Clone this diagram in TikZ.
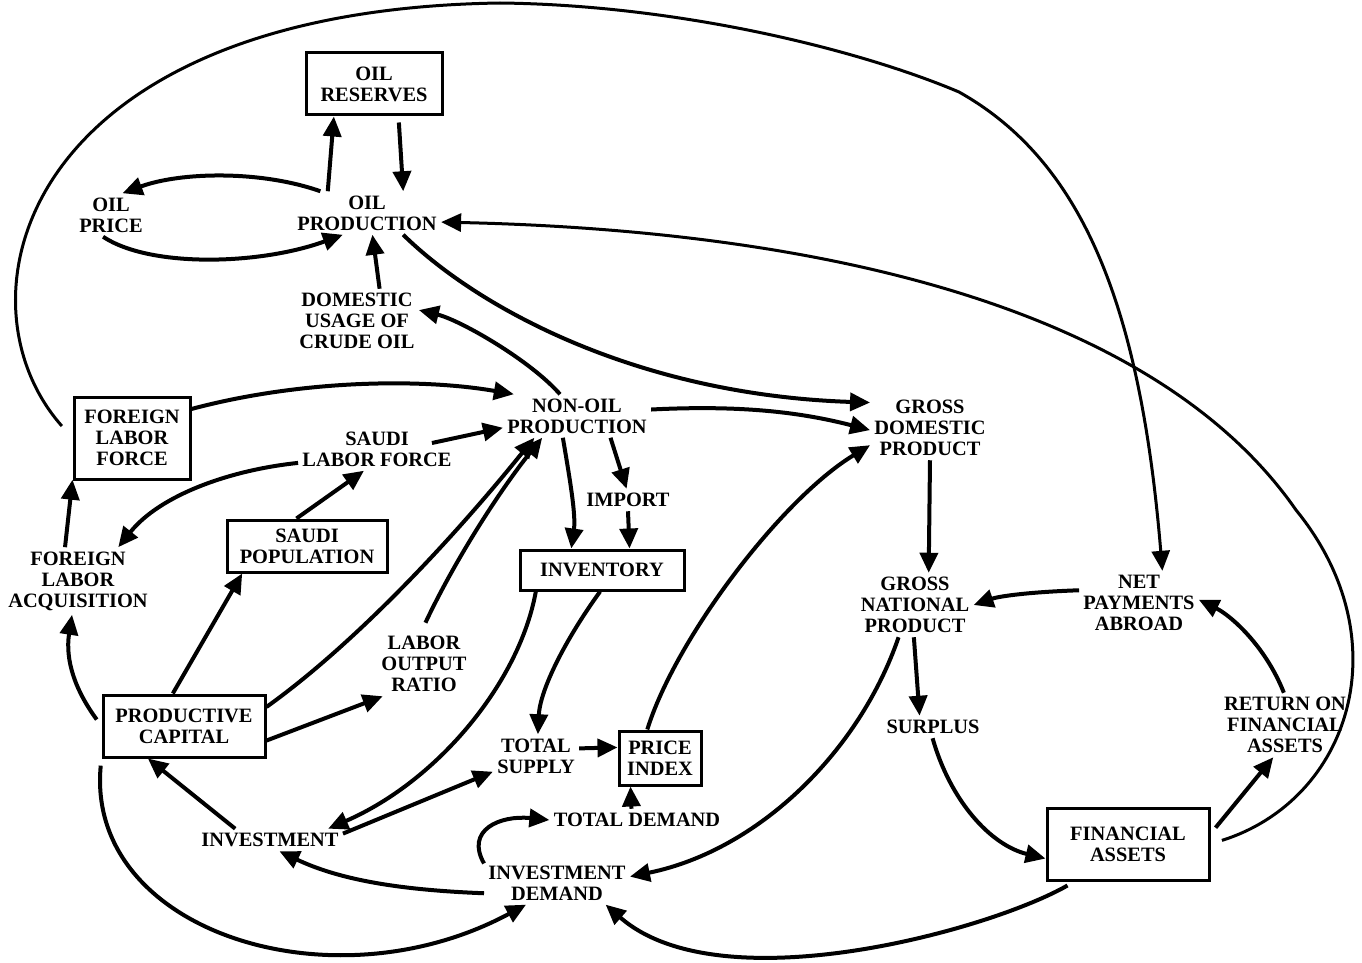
\documentclass[tikz,border=0pt]{standalone}
\usepackage{fontspec}
\setmainfont{Liberation Serif}
\usetikzlibrary{arrows.meta}

\begin{document}
\begin{tikzpicture}[x=0.5pt, y=-0.5pt,
  font=\bfseries\fontsize{10.2}{10.5}\selectfont,
  lbl/.style={align=center, inner sep=2pt},
  box/.style={draw, line width=1.5pt, align=center, inner sep=2pt},
  arr/.style={-{Triangle[length=10pt,width=9pt]}, line width=2pt},
  big/.style={arr, line width=1.5pt}]
\useasboundingbox (0,0) rectangle (1362,963);
\node[box, minimum width=68pt, minimum height=31pt] (res) at (374,84) {OIL\\RESERVES};
\node[lbl] (oilprod) at (367,213) {OIL\\PRODUCTION};
\node[lbl] (price) at (111,215) {OIL\\PRICE};
\node[lbl] (dom) at (357,321) {DOMESTIC\\USAGE OF\\CRUDE OIL};
\node[box, minimum width=58pt, minimum height=41pt] (flf) at (132,438) {FOREIGN\\LABOR\\FORCE};
\node[lbl] (nonoil) at (577,416) {NON-OIL\\PRODUCTION};
\node[lbl] (gdp) at (930,428) {GROSS\\DOMESTIC\\PRODUCT};
\node[lbl] (slf) at (377,449) {SAUDI\\LABOR FORCE};
\node[box, minimum width=80pt, minimum height=26pt] (spop) at (307,546) {SAUDI\\POPULATION};
\node[lbl] (fla) at (78,581) {FOREIGN\\LABOR\\ACQUISITION};
\node[lbl] (imp) at (628,500) {IMPORT};
\node[box, minimum width=82pt, minimum height=20pt] (inv) at (602,570) {INVENTORY};
\node[lbl] (lor) at (424,664) {LABOR\\OUTPUT\\RATIO};
\node[box, minimum width=81pt, minimum height=31pt] (pcap) at (184,726) {PRODUCTIVE\\CAPITAL};
\node[lbl] (tsup) at (536,756) {TOTAL\\SUPPLY};
\node[box, minimum width=41pt, minimum height=27pt] (pidx) at (660,758) {PRICE\\INDEX};
\node[lbl] (invest) at (270,840) {INVESTMENT};
\node[lbl] (tdem) at (637,820) {TOTAL DEMAND};
\node[lbl] (idem) at (557,883) {INVESTMENT\\DEMAND};
\node[lbl] (gnp) at (915,605) {GROSS\\NATIONAL\\PRODUCT};
\node[lbl] (npa) at (1139,603) {NET\\PAYMENTS\\ABROAD};
\node[lbl] (surp) at (933,727) {SURPLUS};
\node[lbl] (rfa) at (1285,725) {RETURN ON\\FINANCIAL\\ASSETS};
\node[box, minimum width=81pt, minimum height=36pt] (fa) at (1128,844) {FINANCIAL\\ASSETS};
\draw[arr] (oilprod.151) -- (res.219);
\draw[arr, shorten <=3pt] (res.307) -- (oilprod.31);
\draw[arr] (oilprod.155) .. controls (260,170) and (180,172) .. (price.62);
\draw[arr] (price.250) .. controls (150,268) and (260,265) .. (oilprod.222);
\draw[arr] (dom.55) -- (oilprod.284);
\draw[arr] (nonoil.128) .. controls (530,360) and (460,320) .. (dom.10);
\draw[arr] (oilprod.329) .. controls (480,310) and (640,395) .. (gdp.157);
\draw[big, shorten <=8pt] (flf.west) .. controls (-50,300) and (20,10) .. (500,3) .. controls (680,5) and (860,50) .. (959,92) .. controls (1080,160) and (1140,300) .. (npa.54);
\draw[big, shorten <=6pt] (fa.east) .. controls (1350,800) and (1402,640) .. (1296,510) .. controls (1150,300) and (800,230) .. (oilprod.353);
\draw[arr] (flf.26) .. controls (300,380) and (420,378) .. (nonoil.161);
\draw[arr] ([xshift=-12pt,yshift=3pt]slf.east) -- (nonoil.189);
\draw[arr] (nonoil.5) .. controls (740,405) and (800,412) .. (gdp.182);
\draw[arr] (nonoil.237) .. controls (570,480) and (576,515) .. (inv.145);
\draw[arr] (nonoil.327) -- (imp.97);
\draw[arr] (imp.south) -- (inv.38);
\draw[arr] (slf.190) .. controls (230,470) and (160,495) .. (fla.40);
\draw[arr] (spop.111) -- (slf.239);
\draw[arr] (fla.111) -- (flf.215);
\draw[arr, shorten <=4pt] (pcap.west) .. controls (75,690) and (65,660) .. (fla.260);
\draw[arr] (pcap.109) -- (spop.203);
\draw[arr] (pcap.13) .. controls (360,640) and (460,530) .. (nonoil.207);
\draw[arr, shorten <=5pt] (lor.95) .. controls (455,560) and (500,490) .. (nonoil.212);
\draw[arr] (pcap.350) -- (lor.218);
\draw[arr] (inv.198) .. controls (520,680) and (440,780) .. (invest.11);
\draw[arr] (inv.265) .. controls (565,640) and (540,690) .. (tsup.85);
\draw[arr] (tsup.10) -- (pidx.166);
\draw[arr] (invest.5) -- (tsup.200);
\draw[arr] (invest.162) -- (pcap.222);
\draw[arr] (tdem.116) -- (pidx.224);
\draw[arr] (idem.165) .. controls (465,830) and (500,815) .. (tdem.west);
\draw[arr] (idem.188) .. controls (400,890) and (340,880) .. (invest.310);
\draw[arr, shorten <=4pt] (pcap.201) .. controls (85,930) and (330,1010) .. (idem.215);
\draw[arr] (pidx.114) .. controls (675,640) and (780,500) .. (gdp.196);
\draw[arr] (gdp.south) -- (gnp.67);
\draw[arr] (npa.168) .. controls (1030,592) and (1000,596) .. (gnp.east);
\draw[arr] (gnp.268) -- (surp.140);
\draw[arr] (gnp.243) .. controls (860,750) and (760,850) .. (idem.5);
\draw[arr] (surp.268) .. controls (950,800) and (990,845) .. (fa.190);
\draw[arr, shorten <=4pt] (fa.7) -- (rfa.250);
\draw[arr] (rfa.92) .. controls (1265,645) and (1230,615) .. (npa.3);
\draw[arr, shorten <=4pt] (fa.215) .. controls (990,930) and (720,1005) .. (idem.336);
\end{tikzpicture}
\end{document}
